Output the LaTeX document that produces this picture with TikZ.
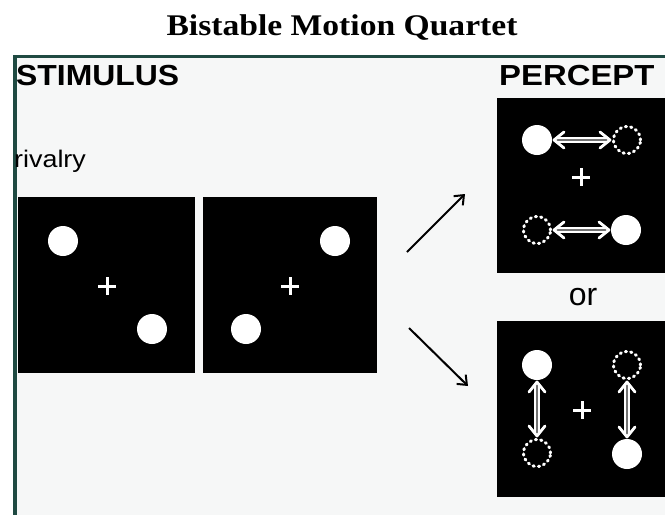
\documentclass[tikz,border=0pt]{standalone}
\usepackage{fontspec}
\setmainfont{Liberation Sans}
\newfontfamily\titlefont{Liberation Serif}
\usetikzlibrary{arrows.meta,calc}
\definecolor{frame}{HTML}{1F4A42}
\definecolor{panel}{HTML}{F6F7F7}
\tikzset{
  blackbox/.style={fill=black, draw=none},
  soliddot/.style={circle, fill=white, draw=none, minimum size=30pt, inner sep=0pt},
  ghostdot/.style={circle, draw=white, line width=3pt, line cap=round, dash pattern=on 1.2pt off 4.2pt, minimum size=27pt, inner sep=0pt},
  fixcross/.style={draw=white, line width=3pt},
  choicearrow/.style={line width=2pt, -{Straight Barb[length=8pt,width=13pt,line width=2pt]}},
  motionshaft/.style={draw=white, line width=1.8pt, double=black!55, double distance=2.4pt},
  motiontip/.style={draw=white, line width=2.8pt, line cap=round, line join=round},
  heading/.style={font=\bfseries\fontsize{29}{30}\selectfont, inner sep=0pt, anchor=base west, xscale=1.1},
}
\newcommand{\crossmark}[1]{\draw[fixcross] ($(#1)+(-9,0)$) -- ($(#1)+(9,0)$) ($(#1)+(0,-9)$) -- ($(#1)+(0,9)$);}
% hollow double arrow between two named nodes: shaft + chevrons pointing at each node
\newcommand{\motionarrow}[2]{%
  \draw[motionshaft, shorten <=19pt, shorten >=19pt] (#1) -- (#2);
  \draw[motiontip] ($(#1)!27pt!(#2)!8pt!90:(#2)$) -- ($(#1)!17pt!(#2)$) -- ($(#1)!27pt!(#2)!8pt!-90:(#2)$);
  \draw[motiontip] ($(#2)!27pt!(#1)!8pt!90:(#1)$) -- ($(#2)!17pt!(#1)$) -- ($(#2)!27pt!(#1)!8pt!-90:(#1)$);
}
\begin{document}
\begin{tikzpicture}[x=1pt, y=-1pt]
\useasboundingbox (0,0) rectangle (665,515);
\fill[white] (0,0) rectangle (665,515);
\fill[panel] (13,56) rectangle (665,515);
\draw[frame, line width=3pt] (13,56.5) -- (665,56.5);
\draw[frame, line width=4pt] (15,55) -- (15,515);

% title
\node[font=\titlefont\bfseries\fontsize{30}{31}\selectfont, inner sep=0pt, anchor=base, xscale=1.12] (title) at (342,35) {Bistable Motion Quartet};

% headings
\node[heading] (stim) at (16,85) {STIMULUS};
\node[heading, xscale=1.03] (perc) at (499,85) {PERCEPT};
\node[font=\fontsize{24}{25}\selectfont, inner sep=0pt, anchor=base west, xscale=1.12] (riv) at (14,167) {rivalry};
\node[font=\fontsize{32}{33}\selectfont, inner sep=0pt, anchor=base] (or) at (583,305) {or};

% stimulus frames
\fill[blackbox] (18,197) rectangle (195,373);
\fill[blackbox] (203,197) rectangle (377,373);
\node[soliddot] (s1a) at (63,241) {};
\node[soliddot] (s1b) at (152,329) {};
\node[soliddot] (s2a) at (335,241) {};
\node[soliddot] (s2b) at (246,329) {};
\coordinate (c1) at (107,286);
\coordinate (c2) at (290,286);
\crossmark{c1}
\crossmark{c2}

% choice arrows
\coordinate (u0) at (407,252);
\coordinate (u1) at (465,194);
\coordinate (d0) at (409,328);
\coordinate (d1) at (468,386);
\draw[choicearrow] (u0) -- (u1);
\draw[choicearrow] (d0) -- (d1);

% percept 1: horizontal motion
\fill[blackbox] (497,98) rectangle (665,273);
\node[soliddot] (p1a) at (537,140) {};
\node[ghostdot] (p1b) at (627,140) {};
\node[ghostdot] (p1c) at (537,230) {};
\node[soliddot] (p1d) at (626,230) {};
\coordinate (c3) at (581,177);
\crossmark{c3}
\motionarrow{p1a.center}{p1b.center}
\motionarrow{p1c.center}{p1d.center}

% percept 2: vertical motion
\fill[blackbox] (497,321) rectangle (665,497);
\node[soliddot] (p2a) at (537,365) {};
\node[ghostdot] (p2b) at (537,453) {};
\node[ghostdot] (p2c) at (627,365) {};
\node[soliddot] (p2d) at (627,454) {};
\coordinate (c4) at (582,410);
\crossmark{c4}
\motionarrow{p2a.center}{p2b.center}
\motionarrow{p2c.center}{p2d.center}
\end{tikzpicture}
\end{document}
